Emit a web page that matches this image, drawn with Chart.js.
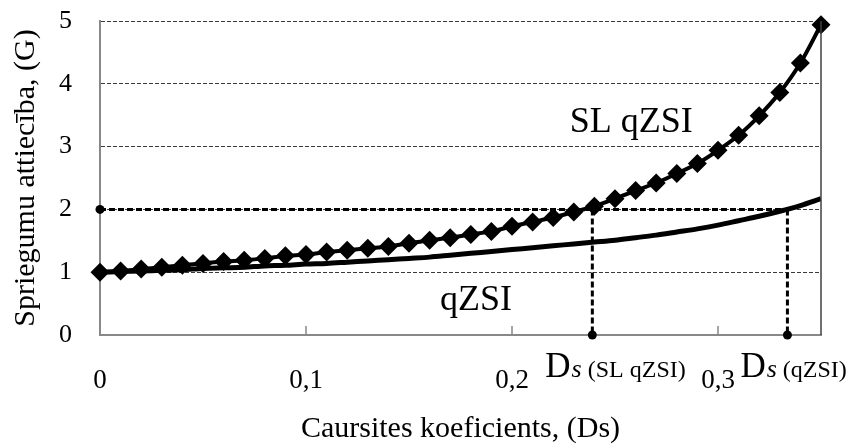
<!DOCTYPE html>
<html>
<head>
<meta charset="utf-8">
<script src="https://cdn.jsdelivr.net/npm/chart.js@4/dist/chart.umd.min.js"></script>
<style>
  body { margin: 0; background: #fff; }
  #wrap { width: 861px; height: 447px; }
</style>
</head>
<body>
<div id="wrap"><canvas id="gainChart"></canvas></div>
<script>
// caursites koeficients (Ds)
const dValues = [0, 0.01, 0.02, 0.03, 0.04, 0.05, 0.06, 0.07, 0.08, 0.09,
    0.10, 0.11, 0.12, 0.13, 0.14, 0.15, 0.16, 0.17, 0.18, 0.19,
    0.20, 0.21, 0.22, 0.23, 0.24, 0.25, 0.26, 0.27, 0.28, 0.29,
    0.30, 0.31, 0.32, 0.33, 0.34, 0.35];

// SL qZSI sprieguma attiecība
const slQzsiValues = [1.00, 1.02, 1.05, 1.08, 1.11, 1.14, 1.17, 1.19, 1.22, 1.26,
    1.28, 1.32, 1.35, 1.38, 1.41, 1.46, 1.51, 1.55, 1.60, 1.65,
    1.73, 1.80, 1.87, 1.96, 2.05, 2.17, 2.30, 2.42, 2.57, 2.73,
    2.94, 3.18, 3.49, 3.86, 4.33, 4.94];

// qZSI sprieguma attiecība
const qzsiValues = [1.00, 1.01, 1.02, 1.03, 1.04, 1.06, 1.07, 1.08, 1.10, 1.11,
    1.13, 1.14, 1.16, 1.18, 1.20, 1.22, 1.24, 1.27, 1.30, 1.33,
    1.36, 1.39, 1.42, 1.45, 1.48, 1.51, 1.55, 1.59, 1.64, 1.69,
    1.75, 1.82, 1.89, 1.97, 2.06, 2.17];

const xTicks = [0, 0.1, 0.2, 0.3];
const yTicks = [0, 1, 2, 3, 4, 5];

// G = 2 līmenis un atbilstošie Ds punkti
const gLevel = 2;
const dsSlQzsi = 0.239;
const dsQzsi = 0.3337;

const seriesLabels = [
    { text: 'SL qZSI', x: 0.228, y: 3.24 },
    { text: 'qZSI', x: 0.165, y: 0.40 }
];
const dsLabels = [
    { d: dsSlQzsi, sub: '(SL qZSI)' },
    { d: dsQzsi, sub: '(qZSI)' }
];

const toPoints = (xs, ys) => xs.map((x, i) => ({ x: x, y: ys[i] }));
const fmt = v => String(Math.round(v * 10) / 10).replace('.', ',');

Chart.defaults.font.family = '"Liberation Serif", "DejaVu Serif", serif';
Chart.defaults.color = '#000';

const overlay = {
    id: 'overlay',
    afterDraw(chart) {
        const { ctx, chartArea: a, scales: { x, y } } = chart;
        ctx.save();
        // labā mala
        ctx.strokeStyle = '#404040';
        ctx.lineWidth = 1.5;
        ctx.beginPath();
        ctx.moveTo(a.right, a.top);
        ctx.lineTo(a.right, a.bottom);
        ctx.stroke();
        // x ass iedaļas uz iekšu
        ctx.strokeStyle = '#888';
        ctx.beginPath();
        xTicks.forEach(v => {
            const px = x.getPixelForValue(v);
            ctx.moveTo(px, a.bottom);
            ctx.lineTo(px, a.bottom - 9);
        });
        ctx.stroke();
        // līkņu nosaukumi
        ctx.fillStyle = '#000';
        ctx.textBaseline = 'alphabetic';
        ctx.textAlign = 'left';
        ctx.font = '36px "Liberation Serif"';
        seriesLabels.forEach(l => ctx.fillText(l.text, x.getPixelForValue(l.x), y.getPixelForValue(l.y)));
        // Ds apzīmējumi zem ass
        dsLabels.forEach(l => {
            let px = x.getPixelForValue(l.d) - 47;
            const base = a.bottom + 42;
            ctx.font = '35px "Liberation Serif"';
            ctx.fillText('D', px, base);
            px += ctx.measureText('D').width + 1;
            ctx.font = 'italic 26px "Liberation Serif"';
            ctx.fillText('s', px, base);
            px += ctx.measureText('s').width + 6;
            ctx.font = '24px "Liberation Serif"';
            ctx.fillText(l.sub, px, base);
        });
        ctx.restore();
    }
};

const dashed = {
    borderColor: '#000',
    backgroundColor: '#000',
    borderWidth: 3,
    borderDash: [6, 3],
    pointStyle: 'circle',
    pointBackgroundColor: '#000',
    pointBorderWidth: 0,
    tension: 0,
    clip: false
};

new Chart(document.getElementById('gainChart'), {
    type: 'line',
    data: {
        datasets: [
            {
                label: 'SL qZSI',
                data: toPoints(dValues, slQzsiValues),
                borderColor: '#000',
                backgroundColor: '#000',
                borderWidth: 4,
                pointStyle: 'rectRot',
                pointRadius: 9.5,
                pointBorderWidth: 0,
                pointBackgroundColor: '#000',
                tension: 0.3,
                clip: false
            },
            {
                label: 'qZSI',
                data: toPoints(dValues, qzsiValues),
                borderColor: '#000',
                borderWidth: 5,
                pointRadius: 0,
                tension: 0.3
            },
            Object.assign({
                label: 'G = 2',
                data: [{ x: 0, y: gLevel }, { x: dsQzsi, y: gLevel }],
                pointRadius: [4.5, 0]
            }, dashed),
            Object.assign({
                label: 'Ds SL qZSI',
                data: [{ x: dsSlQzsi, y: gLevel }, { x: dsSlQzsi, y: 0 }],
                pointRadius: [0, 4.5]
            }, dashed),
            Object.assign({
                label: 'Ds qZSI',
                data: [{ x: dsQzsi, y: gLevel }, { x: dsQzsi, y: 0 }],
                pointRadius: [0, 4.5]
            }, dashed)
        ]
    },
    options: {
        responsive: true,
        maintainAspectRatio: false,
        animation: false,
        layout: { padding: { top: 21, right: 40, left: 0, bottom: 0 } },
        plugins: {
            legend: { display: false },
            tooltip: { enabled: false }
        },
        scales: {
            x: {
                type: 'linear',
                min: 0,
                max: 0.35,
                afterFit: s => { s.height = 112; s.paddingLeft = 0; s.paddingRight = 0; },
                afterBuildTicks: s => { s.ticks = xTicks.map(v => ({ value: v })); },
                grid: { display: false, drawTicks: false },
                border: { display: true, color: '#888', width: 2 },
                ticks: {
                    font: { size: 27 },
                    padding: 30,
                    maxRotation: 0,
                    callback: v => fmt(v)
                },
                title: {
                    display: true,
                    text: 'Caursites koeficients, (Ds)',
                    font: { size: 30 },
                    padding: { top: 0, bottom: 0 }
                }
            },
            y: {
                min: 0,
                max: 5,
                afterFit: s => { s.width = 100; s.paddingTop = 0; s.paddingBottom = 0; },
                afterBuildTicks: s => { s.ticks = yTicks.map(v => ({ value: v })); },
                grid: {
                    drawTicks: false,
                    lineWidth: 1,
                    color: c => c.tick && c.tick.value === 0 ? 'rgba(0,0,0,0)' : '#3a3a3a'
                },
                border: { display: true, color: '#888', width: 2, dash: [4, 2] },
                ticks: {
                    font: { size: 26 },
                    padding: 28,
                    callback: v => String(v)
                },
                title: {
                    display: true,
                    text: 'Spriegumu attiecība, (G)',
                    font: { size: 30 },
                    padding: { top: 8, bottom: 0 }
                }
            }
        }
    },
    plugins: [overlay]
});
</script>
</body>
</html>
